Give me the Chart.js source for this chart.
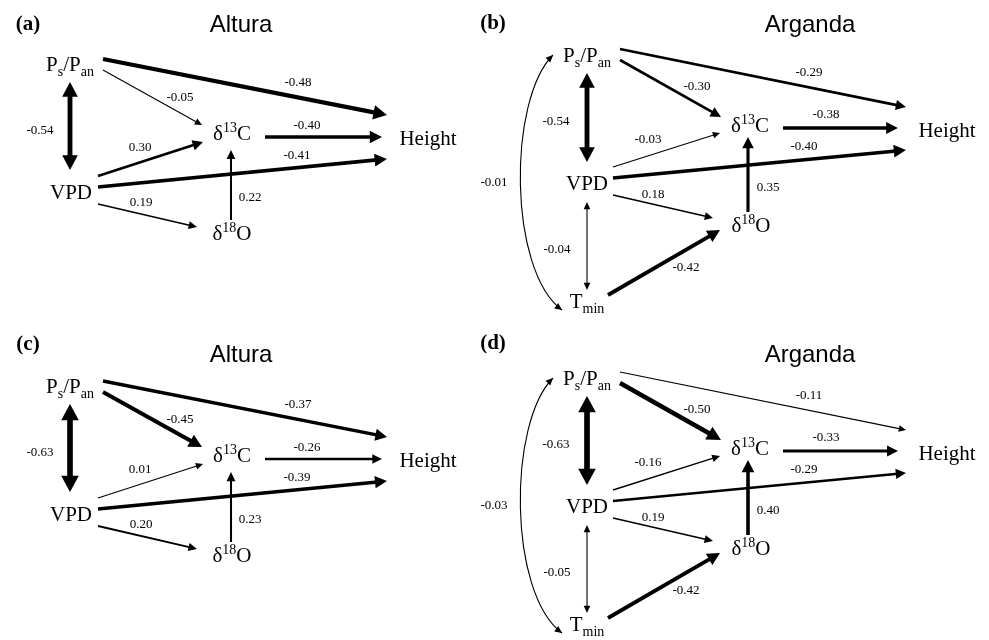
<!DOCTYPE html>
<html>
<head>
<meta charset="utf-8">
<script src="https://cdn.jsdelivr.net/npm/chart.js@4.4.0/dist/chart.umd.min.js"></script>
<style>
  body { margin: 0; background: #fff; }
  #wrap { position: relative; width: 989px; height: 640px; overflow: hidden; }
  #wrap canvas { position: absolute; }
</style>
</head>
<body>
<div id="wrap">
  <canvas id="pa" width="480" height="320" style="left:0;top:0"></canvas>
  <canvas id="pb" width="519" height="320" style="left:470px;top:0"></canvas>
  <canvas id="pc" width="480" height="320" style="left:0;top:320px"></canvas>
  <canvas id="pd" width="519" height="320" style="left:470px;top:320px"></canvas>
</div>
<script>
// path coefficients
const pathsAltura = ['ps>height', 'ps>d13c', 'ps<>vpd', 'vpd>d13c', 'vpd>height', 'vpd>d18o', 'd13c>height', 'd18o>d13c'];
const coefA = [-0.48, -0.05, -0.54, 0.30, -0.41, 0.19, -0.40, 0.22];
const coefC = [-0.37, -0.45, -0.63, 0.01, -0.39, 0.20, -0.26, 0.23];

const pathsArganda = ['ps>height', 'ps>d13c', 'ps<>vpd', 'vpd>d13c', 'vpd>height', 'vpd>d18o', 'd13c>height', 'd18o>d13c', 'vpd<>tmin', 'tmin>d18o', 'ps<>tmin'];
const coefB = [-0.29, -0.30, -0.54, -0.03, -0.40, 0.18, -0.38, 0.35, -0.04, -0.42, -0.01];
const coefD = [-0.11, -0.50, -0.63, -0.16, -0.29, 0.19, -0.33, 0.40, -0.05, -0.42, -0.03];

const panelTags = ['(a)', '(b)', '(c)', '(d)'];
const siteNames = ['Altura', 'Arganda', 'Altura', 'Arganda'];

// variable names: [text, sub/sup] pieces
const nodeText = {
  ps: [['P', ''], ['s', 'sub'], ['/P', ''], ['an', 'sub']],
  vpd: [['VPD', '']],
  tmin: [['T', ''], ['min', 'sub']],
  d13c: [['\u03b4', ''], ['13', 'sup'], ['C', '']],
  d18o: [['\u03b4', ''], ['18', 'sup'], ['O', '']],
  height: [['Height', '']]
};

// diagram layout, in panel units (x, y measured down from the top)
const layoutAltura = {
  xmin: 0, xmax: 480,
  nodes: { ps: [70, 71], d13c: [232, 140], height: [428, 145], vpd: [71, 199], d18o: [232, 240] },
  // x1, y1, x2, y2, label x, label y
  paths: {
    'ps>height': [103, 59, 387, 115, 298, 83],
    'ps>d13c': [103, 70, 202, 125, 180, 98],
    'ps<>vpd': [70, 82, 70, 170, 40, 131],
    'vpd>d13c': [98, 176, 203, 142, 140, 148],
    'vpd>height': [98, 187, 387, 159, 297, 156],
    'vpd>d18o': [98, 204, 197, 227, 141, 203],
    'd13c>height': [265, 137, 382, 137, 307, 126],
    'd18o>d13c': [231, 220, 231, 150, 250, 198]
  },
  tag: [28, 25], title: [241, 25]
};
const layoutArganda = {
  xmin: -10, xmax: 509,
  nodes: { ps: [107, 62], d13c: [270, 132], height: [467, 137], vpd: [107, 190], d18o: [271, 232], tmin: [107, 308] },
  paths: {
    'ps>height': [140, 49, 426, 107, 329, 73],
    'ps>d13c': [140, 60, 241, 117, 217, 87],
    'ps<>vpd': [107, 73, 107, 162, 76, 122],
    'vpd>d13c': [133, 167, 240, 133, 168, 140],
    'vpd>height': [133, 178, 426, 150, 324, 147],
    'vpd>d18o': [133, 195, 233, 218, 173, 195],
    'd13c>height': [303, 128, 418, 128, 346, 115],
    'd18o>d13c': [268, 212, 268, 137, 288, 188],
    'vpd<>tmin': [107, 202, 107, 290, 77, 250],
    'tmin>d18o': [128, 295, 240, 230, 206, 268],
    'ps<>tmin': [73, 55, 82, 310, 14, 183, 28, 100, 28, 270]
  },
  tag: [13, 24], title: [330, 25]
};

function arrowHead(ctx, x, y, ang, w) {
  const hl = 5 + 2 * w, hw = 2 + 1.2 * w;
  ctx.beginPath();
  ctx.moveTo(x, y);
  ctx.lineTo(x - hl * Math.cos(ang) + hw * Math.sin(ang), y - hl * Math.sin(ang) - hw * Math.cos(ang));
  ctx.lineTo(x - hl * Math.cos(ang) - hw * Math.sin(ang), y - hl * Math.sin(ang) + hw * Math.cos(ang));
  ctx.closePath();
  ctx.fill();
}

function drawNode(ctx, parts, cx, by) {
  const big = '21px "Liberation Serif", "Times New Roman", serif';
  const small = '14px "Liberation Serif", "Times New Roman", serif';
  let total = 0;
  parts.forEach(p => { ctx.font = p[1] ? small : big; total += ctx.measureText(p[0]).width; });
  let x = cx - total / 2;
  ctx.textAlign = 'left';
  ctx.textBaseline = 'alphabetic';
  parts.forEach(p => {
    ctx.font = p[1] ? small : big;
    const dy = p[1] === 'sub' ? 5 : p[1] === 'sup' ? -8 : 0;
    ctx.fillText(p[0], x, by + dy);
    x += ctx.measureText(p[0]).width;
  });
}

const pathPlugin = {
  id: 'pathDiagram',
  afterDraw(chart) {
    const o = chart.options.plugins.pathDiagram;
    const lay = o.layout, dy = o.dy;
    const sx = chart.scales.x, sy = chart.scales.y;
    const px = v => sx.getPixelForValue(v);
    const py = v => sy.getPixelForValue(v + dy);
    const ctx = chart.ctx;
    ctx.save();
    ctx.fillStyle = '#000';
    ctx.strokeStyle = '#000';

    // panel tag and site name
    ctx.font = 'bold 21px "Liberation Serif", "Times New Roman", serif';
    ctx.textAlign = 'center';
    ctx.textBaseline = 'middle';
    ctx.fillText(o.tag, px(lay.tag[0]), sy.getPixelForValue(lay.tag[1]));
    ctx.font = '24px "Liberation Sans", Arial, sans-serif';
    ctx.fillText(o.site, px(lay.title[0]), sy.getPixelForValue(lay.title[1] + o.titleDy));

    // nodes
    Object.keys(lay.nodes).forEach(k => {
      const n = lay.nodes[k];
      drawNode(ctx, nodeText[k], px(n[0]), py(n[1]));
    });

    // paths, width follows the size of the coefficient
    o.paths.forEach((key, i) => {
      const g = lay.paths[key];
      const c = o.coef[i];
      const w = Math.max(1.1, 9 * Math.abs(c));
      const both = key.indexOf('<>') >= 0;
      const x1 = px(g[0]), y1 = py(g[1]), x2 = px(g[2]), y2 = py(g[3]);
      ctx.lineWidth = w;
      ctx.lineCap = 'butt';
      if (g.length > 6) {
        const c1x = px(g[6]), c1y = py(g[7]), c2x = px(g[8]), c2y = py(g[9]);
        ctx.beginPath();
        ctx.moveTo(x1, y1);
        ctx.bezierCurveTo(c1x, c1y, c2x, c2y, x2, y2);
        ctx.stroke();
        arrowHead(ctx, x2, y2, Math.atan2(y2 - c2y, x2 - c2x), w);
        arrowHead(ctx, x1, y1, Math.atan2(y1 - c1y, x1 - c1x), w);
      } else {
        const ang = Math.atan2(y2 - y1, x2 - x1);
        const hl = 5 + 2 * w;
        const s = both ? hl * 0.8 : 0, e = hl * 0.8;
        ctx.beginPath();
        ctx.moveTo(x1 + s * Math.cos(ang), y1 + s * Math.sin(ang));
        ctx.lineTo(x2 - e * Math.cos(ang), y2 - e * Math.sin(ang));
        ctx.stroke();
        arrowHead(ctx, x2, y2, ang, w);
        if (both) arrowHead(ctx, x1, y1, ang + Math.PI, w);
      }
      ctx.font = '13px "Liberation Serif", "Times New Roman", serif';
      ctx.textAlign = 'center';
      ctx.textBaseline = 'middle';
      ctx.fillText(c.toFixed(2), px(g[4]), py(g[5]));
    });
    ctx.restore();
  }
};

function makePanel(id, idx, layout, paths, coef, dy, titleDy) {
  const pts = Object.keys(layout.nodes).map(k => ({ x: layout.nodes[k][0], y: layout.nodes[k][1] + dy }));
  new Chart(document.getElementById(id), {
    type: 'scatter',
    data: { datasets: [{ data: pts, pointRadius: 0, pointHoverRadius: 0 }] },
    options: {
      responsive: false,
      animation: false,
      events: [],
      layout: { padding: 0 },
      scales: {
        x: { type: 'linear', min: layout.xmin, max: layout.xmax, display: false },
        y: { type: 'linear', min: 0, max: 320, reverse: true, display: false }
      },
      plugins: {
        legend: { display: false },
        tooltip: { enabled: false },
        pathDiagram: { layout: layout, paths: paths, coef: coef, dy: dy, titleDy: titleDy, tag: panelTags[idx], site: siteNames[idx] }
      }
    },
    plugins: [pathPlugin]
  });
}

makePanel('pa', 0, layoutAltura, pathsAltura, coefA, 0, 0);
makePanel('pb', 1, layoutArganda, pathsArganda, coefB, 0, 0);
makePanel('pc', 2, layoutAltura, pathsAltura, coefC, 2, 10);
makePanel('pd', 3, layoutArganda, pathsArganda, coefD, 3, 10);
</script>
</body>
</html>
